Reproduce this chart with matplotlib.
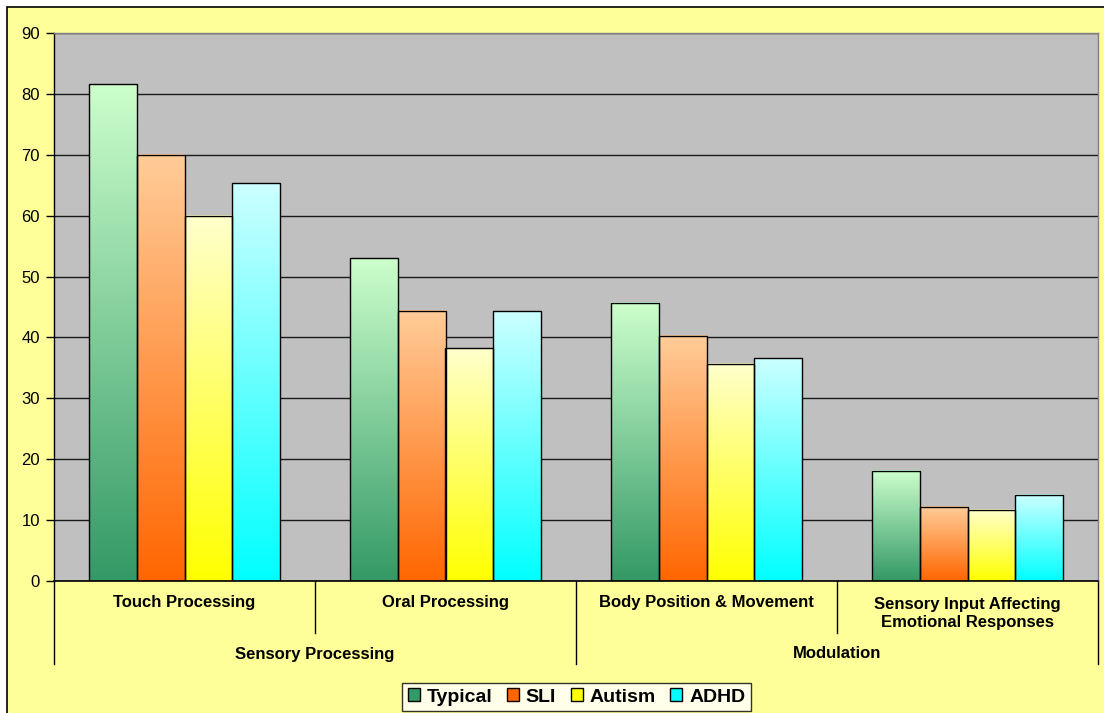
import numpy as np
import matplotlib
matplotlib.use("Agg")
import matplotlib.pyplot as plt
from matplotlib.colors import LinearSegmentedColormap
from matplotlib.patches import Patch, Rectangle
from matplotlib.transforms import blended_transform_factory

plt.rcParams['font.family'] = ['Liberation Sans', 'DejaVu Sans']

# Data
subcategories = ["Touch Processing", "Oral Processing", "Body Position & Movement",
                 "Sensory Input Affecting\nEmotional Responses"]
groups = ["Sensory Processing", "Modulation"]
group_spans = [(0, 1), (2, 3)]
series = ["Typical", "SLI", "Autism", "ADHD"]
typical = [81.6, 53.0, 45.7, 18.1]
sli = [70.0, 44.4, 40.3, 12.2]
autism = [60.0, 38.2, 35.7, 11.7]
adhd = [65.3, 44.3, 36.6, 14.2]
values = [typical, sli, autism, adhd]

# gradient colours: (bottom, top)
grad_colors = [("#339966", "#CCFFCC"),
               ("#FF6600", "#FFCC99"),
               ("#FFFF00", "#FFFFCC"),
               ("#00FFFF", "#CCFFFF")]

W, H = 1104, 713
fig = plt.figure(figsize=(W / 100, H / 100), dpi=100, facecolor="white")

# yellow chart area with black border at top/left
fig.patches.append(Rectangle((7 / W, -0.05), 1.1, (H - 7) / H + 0.05,
                             transform=fig.transFigure, facecolor="#FFFF99",
                             edgecolor="black", linewidth=1.2, zorder=-10))

ax = fig.add_axes([54 / W, (H - 581) / H, (1098 - 54) / W, (581 - 33) / H])
ax.set_facecolor("#C0C0C0")

n = len(subcategories)
x = np.arange(n)
bw = 0.183
offsets = (np.arange(len(series)) - (len(series) - 1) / 2) * bw

grad = np.linspace(0, 1, 256).reshape(-1, 1)
for i, (name, vals) in enumerate(zip(series, values)):
    cmap = LinearSegmentedColormap.from_list(name, grad_colors[i])
    bars = ax.bar(x + offsets[i], vals, width=bw, facecolor="none",
                  edgecolor="black", linewidth=1.0, zorder=3)
    for b in bars:
        x0, w, h = b.get_x(), b.get_width(), b.get_height()
        ax.imshow(grad, cmap=cmap, origin="lower", aspect="auto",
                  extent=(x0, x0 + w, 0, h), zorder=2, interpolation="bilinear")

ax.set_xlim(-0.5, n - 0.5)
ax.set_ylim(0, 90)
ax.set_yticks(np.arange(0, 91, 10))
ax.yaxis.grid(True, color="#1a1a1a", linewidth=1.0, zorder=1)
ax.set_axisbelow(True)
ax.set_xticks([])
ax.tick_params(axis="y", direction="out", length=6, width=1, color="black",
               labelsize=12, pad=4)

for s in ["top", "right"]:
    ax.spines[s].set_color("#808080")
    ax.spines[s].set_linewidth(1.0)
ax.spines["left"].set_color("black")
ax.spines["bottom"].set_color("black")
ax.spines["left"].set_linewidth(1.0)
ax.spines["bottom"].set_linewidth(1.2)

# multi-level category axis
tr = blended_transform_factory(ax.transData, ax.transAxes)
long_y = -83 / 548
short_y = -52 / 548
for k in range(n + 1):
    xb = k - 0.5
    is_group_edge = any(xb == g0 - 0.5 or xb == g1 + 0.5 for g0, g1 in group_spans)
    ax.plot([xb, xb], [0, long_y if is_group_edge else short_y], transform=tr,
            color="black", linewidth=1.0, clip_on=False)

for k, label in enumerate(subcategories):
    ax.text(k, -22 / 548 if "\n" not in label else -32 / 548, label, transform=tr,
            ha="center", va="center", fontsize=12, fontweight="bold",
            linespacing=1.25)

for g, (g0, g1) in zip(groups, group_spans):
    ax.text((g0 + g1) / 2, -73 / 548, g, transform=tr, ha="center", va="center",
            fontsize=12, fontweight="bold")

handles = [Patch(facecolor=c[0], edgecolor="black", linewidth=1.0) for c in grad_colors]
leg = fig.legend(handles, series, loc="center", bbox_to_anchor=(576.5 / W, (H - 697) / H),
                 ncol=4, frameon=True, fancybox=False, edgecolor="black",
                 prop={"weight": "bold", "size": 14}, handlelength=0.62,
                 handleheight=0.62, handletextpad=0.35, columnspacing=0.75,
                 borderpad=0.3, borderaxespad=0)
leg.get_frame().set_linewidth(1.0)
leg.get_frame().set_facecolor("white")

fig.savefig("out.png", dpi=100, facecolor=fig.get_facecolor())
